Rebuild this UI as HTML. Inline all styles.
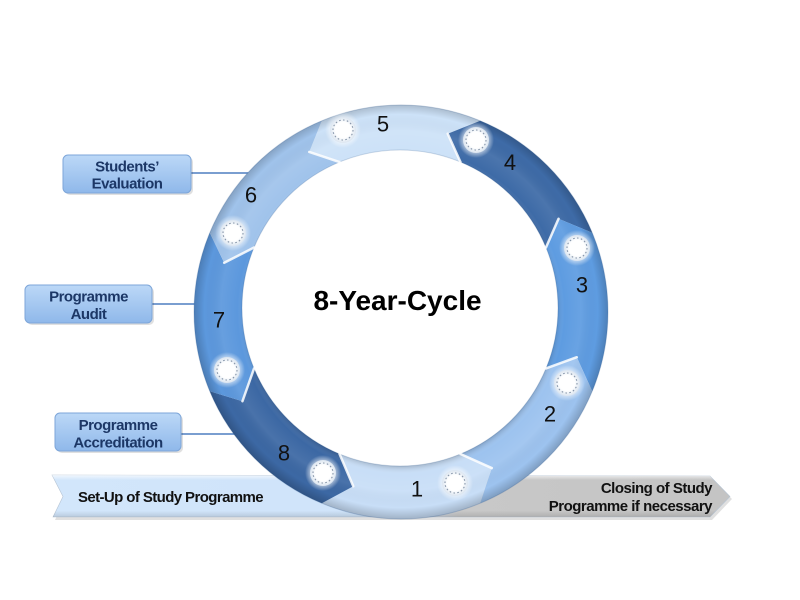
<!DOCTYPE html>
<html><head><meta charset="utf-8"><style>
html,body{margin:0;padding:0;background:#fff;}
svg{display:block;}
</style></head><body>
<svg width="800" height="600" viewBox="0 0 800 600" xmlns="http://www.w3.org/2000/svg">
<defs>
<linearGradient id="barg" gradientUnits="userSpaceOnUse" x1="52" y1="0" x2="730" y2="0">
<stop offset="0" stop-color="#d2e6fb"/><stop offset="0.52" stop-color="#cfe3f9"/>
<stop offset="0.6" stop-color="#c8c8c8"/><stop offset="1" stop-color="#c4c4c4"/>
</linearGradient>
<linearGradient id="barv" x1="0" y1="0" x2="0" y2="1">
<stop offset="0" stop-color="#fff" stop-opacity="0.7"/><stop offset="0.12" stop-color="#fff" stop-opacity="0"/>
<stop offset="0.85" stop-color="#000" stop-opacity="0"/><stop offset="1" stop-color="#000" stop-opacity="0.12"/>
</linearGradient>
<linearGradient id="boxg" x1="0" y1="0" x2="0" y2="1">
<stop offset="0" stop-color="#bcd8f7"/><stop offset="1" stop-color="#8fb8ea"/>
</linearGradient>
<radialGradient id="ringov" gradientUnits="userSpaceOnUse" cx="401" cy="311" r="207">
<stop offset="0.75" stop-color="#000" stop-opacity="0.16"/>
<stop offset="0.79" stop-color="#fff" stop-opacity="0"/>
<stop offset="0.87" stop-color="#fff" stop-opacity="0.07"/>
<stop offset="0.95" stop-color="#000" stop-opacity="0"/>
<stop offset="1" stop-color="#000" stop-opacity="0.18"/>
</radialGradient>
<radialGradient id="icg" cx="0.5" cy="0.5" r="0.5">
<stop offset="0" stop-color="#ffffff"/><stop offset="0.6" stop-color="#ffffff"/>
<stop offset="1" stop-color="#dbe5f0"/>
</radialGradient>
<radialGradient id="glow" cx="0.5" cy="0.5" r="0.5">
<stop offset="0.6" stop-color="#ffffff" stop-opacity="0.7"/>
<stop offset="1" stop-color="#ffffff" stop-opacity="0"/>
</radialGradient>
<g id="ic">
<circle r="18" fill="url(#glow)"/>
<circle r="13" fill="url(#icg)"/>
<circle r="10" fill="none" stroke="#8796aa" stroke-width="1.1" stroke-dasharray="1.6 2.3"/>
</g>
</defs>

<!-- bottom bar -->
<path d="M54,478 L712,479 L732,499 L712,520 L55,520 L65,499 Z" fill="#000" opacity="0.12"/>
<path d="M52,475 L710,476 L730,496.5 L710,517 L53,517 L63,496.5 Z" fill="url(#barg)" stroke="#b5c3d3" stroke-width="0.6"/>
<path d="M52,475 L710,476 L730,496.5 L710,517 L53,517 L63,496.5 Z" fill="url(#barv)"/>
<text x="78" y="502" font-family="Liberation Sans, sans-serif" font-weight="bold" font-size="15" letter-spacing="-0.6" fill="#111">Set-Up of Study Programme</text>
<text x="712" y="493" text-anchor="end" font-family="Liberation Sans, sans-serif" font-weight="bold" font-size="15" letter-spacing="-0.5" fill="#111">Closing of Study</text>
<text x="712" y="511" text-anchor="end" font-family="Liberation Sans, sans-serif" font-weight="bold" font-size="15" letter-spacing="-0.5" fill="#111">Programme if necessary</text>

<!-- connector lines -->
<g stroke="#4f7fc0" stroke-width="1.6">
<line x1="190" y1="173" x2="255" y2="173"/>
<line x1="152" y1="304" x2="205" y2="304"/>
<line x1="181" y1="434" x2="250" y2="434"/>
</g>

<!-- boxes -->
<g font-family="Liberation Sans, sans-serif" font-weight="bold" font-size="15" letter-spacing="-0.5" fill="#1c3766" text-anchor="middle">
<rect x="65" y="157" width="128" height="38" rx="5" fill="#000" opacity="0.12"/>
<rect x="63" y="155" width="128" height="38" rx="5" fill="url(#boxg)" stroke="#7ea6d9" stroke-width="1"/>
<text x="127" y="171.5">Students’</text>
<text x="127" y="188.5">Evaluation</text>

<rect x="27" y="287" width="127" height="38" rx="5" fill="#000" opacity="0.12"/>
<rect x="25" y="285" width="127" height="38" rx="5" fill="url(#boxg)" stroke="#7ea6d9" stroke-width="1"/>
<text x="88.5" y="301.5">Programme</text>
<text x="88.5" y="319">Audit</text>

<rect x="57" y="415" width="126" height="38" rx="5" fill="#000" opacity="0.12"/>
<rect x="55" y="413" width="126" height="38" rx="5" fill="url(#boxg)" stroke="#7ea6d9" stroke-width="1"/>
<text x="118" y="430">Programme</text>
<text x="118" y="447.5">Accreditation</text>
</g>

<!-- segments -->
<path d="M480.21,120.76 A207,207 0 0,0 321.79,120.76 L309.25,151.95 L339.54,162.03 A158,158 0 0,1 460.46,162.03 L447.73,133.72 Z" fill="#cde2f8"/>
<path d="M592.24,232.79 A207,207 0 0,0 480.21,120.76 L447.73,133.72 L460.46,162.03 A158,158 0 0,1 545.97,247.54 L558.55,218.75 Z" fill="#3e6ba7"/>
<path d="M592.24,391.21 A207,207 0 0,0 592.24,232.79 L558.55,218.75 L545.97,247.54 A158,158 0 0,1 545.97,368.46 L576.78,357.23 Z" fill="#5e9ce1"/>
<path d="M480.21,503.24 A207,207 0 0,0 592.24,391.21 L576.78,357.23 L545.97,368.46 A158,158 0 0,1 460.46,453.97 L491.75,468.05 Z" fill="#9dc3ef"/>
<path d="M321.79,503.24 A207,207 0 0,0 480.21,503.24 L491.75,468.05 L460.46,453.97 A158,158 0 0,1 339.54,453.97 L353.27,486.28 Z" fill="#c8def7"/>
<path d="M209.76,391.21 A207,207 0 0,0 321.79,503.24 L353.27,486.28 L339.54,453.97 A158,158 0 0,1 254.03,368.46 L242.45,401.25 Z" fill="#3c68a4"/>
<path d="M209.76,232.79 A207,207 0 0,0 209.76,391.21 L242.45,401.25 L254.03,368.46 A158,158 0 0,1 254.03,247.54 L224.22,262.77 Z" fill="#5c98dd"/>
<path d="M321.79,120.76 A207,207 0 0,0 209.76,232.79 L224.22,262.77 L254.03,247.54 A158,158 0 0,1 339.54,162.03 L309.25,151.95 Z" fill="#a0c3eb"/>

<!-- shading overlay -->
<path fill-rule="evenodd" fill="url(#ringov)" d="M194,312 A207,207 0 1,0 608,312 A207,207 0 1,0 194,312 Z M242,308 A158,158 0 1,0 558,308 A158,158 0 1,0 242,308 Z"/>
<circle cx="401" cy="312" r="207" fill="none" stroke="#2f5a92" stroke-opacity="0.25" stroke-width="1"/>
<circle cx="400" cy="308" r="158" fill="none" stroke="#2f5a92" stroke-opacity="0.2" stroke-width="1"/>

<!-- bevel highlights at chevron edges -->
<g stroke="#ffffff" stroke-width="2.5" stroke-opacity="0.85" stroke-linecap="round">
<line x1="309.25" y1="151.95" x2="339.54" y2="162.03"/>
<line x1="447.73" y1="133.72" x2="460.46" y2="162.03"/>
<line x1="558.55" y1="218.75" x2="545.97" y2="247.54"/>
<line x1="576.78" y1="357.23" x2="545.97" y2="368.46"/>
<line x1="491.75" y1="468.05" x2="460.46" y2="453.97"/>
<line x1="353.27" y1="486.28" x2="339.54" y2="453.97"/>
<line x1="242.45" y1="401.25" x2="254.03" y2="368.46"/>
<line x1="224.22" y1="262.77" x2="254.03" y2="247.54"/>
</g>

<!-- icons -->
<use href="#ic" x="343" y="130"/>
<use href="#ic" x="476" y="140"/>
<use href="#ic" x="577" y="248"/>
<use href="#ic" x="567" y="383"/>
<use href="#ic" x="455" y="483"/>
<use href="#ic" x="323" y="473"/>
<use href="#ic" x="227" y="370"/>
<use href="#ic" x="233" y="233"/>

<!-- numbers -->
<g font-family="Liberation Sans, sans-serif" font-size="22" fill="#111" text-anchor="middle">
<text x="383" y="131.5">5</text>
<text x="510" y="170">4</text>
<text x="582" y="292.5">3</text>
<text x="550" y="421.5">2</text>
<text x="417" y="496.5">1</text>
<text x="284" y="460.5">8</text>
<text x="219" y="327.5">7</text>
<text x="251" y="202.5">6</text>
</g>

<text x="397.5" y="310" text-anchor="middle" font-family="Liberation Sans, sans-serif" font-weight="bold" font-size="28" fill="#000">8-Year-Cycle</text>
</svg>
</body></html>
